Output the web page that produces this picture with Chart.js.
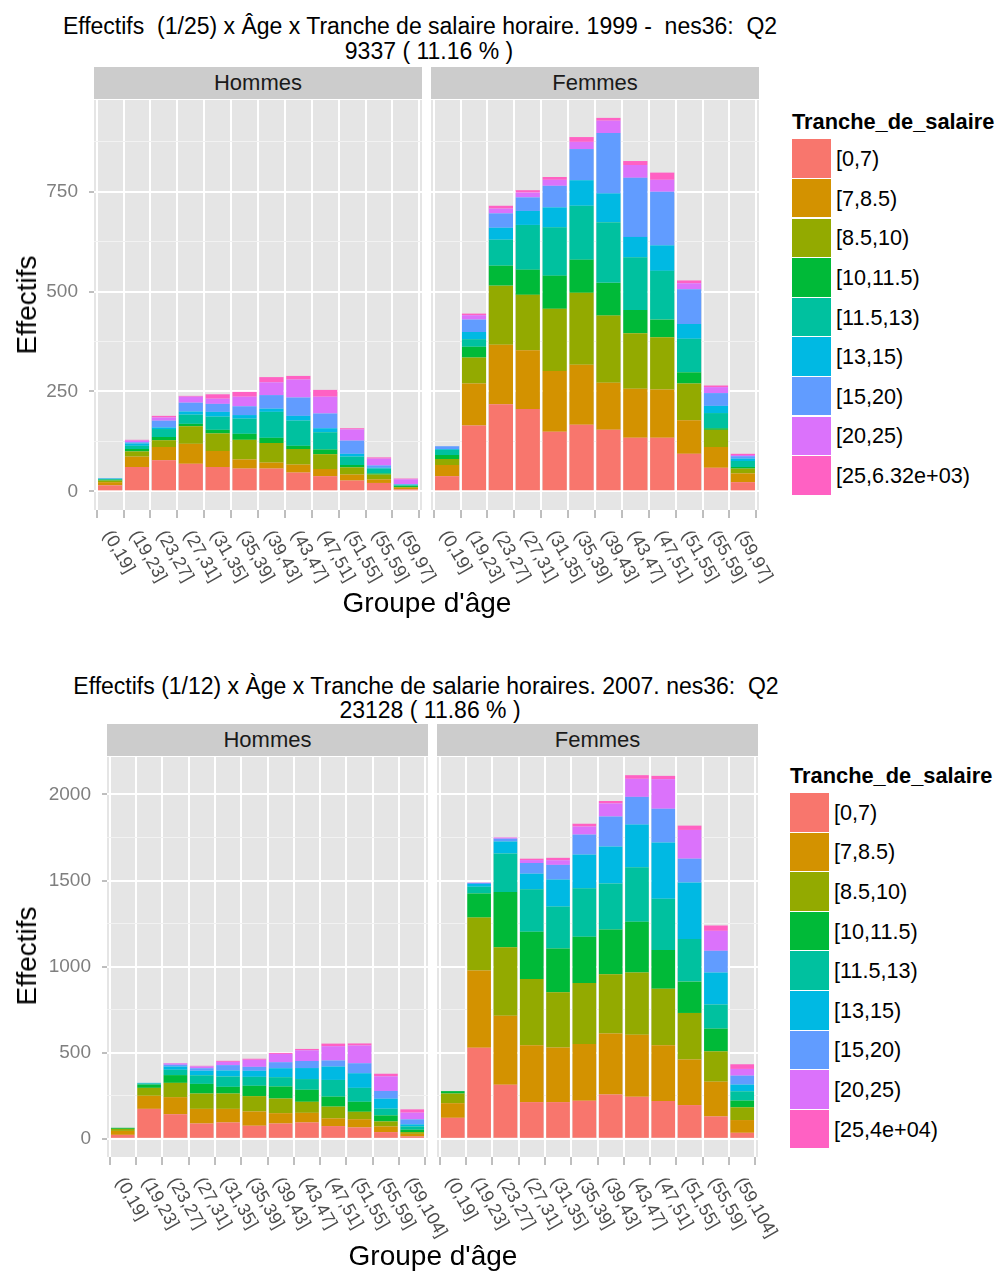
<!DOCTYPE html>
<html>
<head>
<meta charset="utf-8">
<script src="https://cdn.jsdelivr.net/npm/chart.js@4.4.0/dist/chart.umd.min.js"></script>
<style>
  html, body { margin: 0; padding: 0; background: #ffffff; }
  body { width: 995px; height: 1271px; position: relative; overflow: hidden;
         font-family: "Liberation Sans", Arial, Helvetica, sans-serif; color: #000; }
  .title { position: absolute; white-space: pre; font-size: 23px; line-height: 1; transform: translate(-50%, -50%); }
  .strip { position: absolute; background: #CCCCCC; font-size: 22px; color: #1A1A1A;
           display: flex; align-items: center; justify-content: center; }
  .ytitle { position: absolute; font-size: 28px; white-space: nowrap; line-height: 1;
            transform: translate(-50%, -50%) rotate(-90deg); }
  .xtitle { position: absolute; font-size: 28px; white-space: nowrap; line-height: 1;
            transform: translate(-50%, -50%); }
  .ltitle { position: absolute; font-size: 21.8px; font-weight: bold; white-space: nowrap; line-height: 1;
            transform: translateY(-50%); }
  .key { position: absolute; }
  .klabel { position: absolute; font-size: 21.6px; white-space: nowrap; line-height: 1; transform: translateY(-50%); }
  canvas { position: absolute; }
</style>
</head>
<body>
<script>
// Age groups (x categories)
const ageGroups1999 = ['(0,19]', '(19,23]', '(23,27]', '(27,31]', '(31,35]', '(35,39]',
                       '(39,43]', '(43,47]', '(47,51]', '(51,55]', '(55,59]', '(59,97]'];
const ageGroups2007 = ['(0,19]', '(19,23]', '(23,27]', '(27,31]', '(31,35]', '(35,39]',
                       '(39,43]', '(43,47]', '(47,51]', '(51,55]', '(55,59]', '(59,104]'];

// Hourly wage bands (stack order, bottom to top)
const salaryBands1999 = ['[0,7)', '[7,8.5)', '[8.5,10)', '[10,11.5)', '[11.5,13)',
                         '[13,15)', '[15,20)', '[20,25)', '[25,6.32e+03)'];
const salaryBands2007 = ['[0,7)', '[7,8.5)', '[8.5,10)', '[10,11.5)', '[11.5,13)',
                         '[13,15)', '[15,20)', '[20,25)', '[25,4e+04)'];

// Head counts: one row per wage band, one column per age group
const hommes1999 = [
  [15, 61, 78, 69, 61, 57, 57, 47, 38, 27, 21, 5],
  [8, 26, 33, 50, 40, 23, 15, 20, 18, 15, 9, 4],
  [4, 13, 17, 44, 44, 49, 49, 39, 37, 18, 12, 2],
  [2, 6, 8, 6, 9, 15, 13, 8, 12, 6, 3, 3],
  [2, 8, 20, 23, 33, 38, 65, 63, 43, 21, 12, 1],
  [1, 6, 4, 8, 12, 9, 8, 12, 10, 7, 2, 2],
  [1, 3, 17, 22, 20, 22, 34, 46, 37, 33, 6, 1],
  [0, 4, 8, 15, 13, 24, 32, 45, 42, 28, 17, 12],
  [0, 2, 4, 2, 11, 12, 13, 9, 17, 3, 3, 2]
];
const femmes1999 = [
  [38, 165, 218, 206, 149, 167, 154, 134, 134, 94, 59, 23],
  [28, 105, 149, 147, 152, 150, 118, 123, 121, 84, 52, 22],
  [15, 65, 148, 139, 156, 180, 168, 139, 131, 92, 43, 12],
  [10, 27, 50, 63, 83, 83, 82, 58, 44, 28, 4, 4],
  [13, 19, 65, 112, 121, 135, 152, 132, 122, 84, 38, 15],
  [2, 18, 30, 35, 50, 64, 72, 51, 64, 37, 18, 6],
  [7, 31, 36, 34, 54, 78, 151, 148, 134, 87, 32, 6],
  [0, 11, 12, 12, 15, 18, 31, 32, 30, 15, 15, 3],
  [0, 4, 7, 6, 7, 12, 7, 10, 18, 7, 4, 3]
];
const hommes2007 = [
  [23, 174, 143, 89, 95, 76, 89, 95, 74, 66, 39, 14],
  [23, 76, 99, 85, 79, 83, 60, 56, 45, 48, 33, 15],
  [12, 46, 83, 89, 89, 89, 85, 64, 68, 43, 29, 10],
  [6, 19, 45, 56, 39, 60, 70, 70, 58, 58, 35, 14],
  [0, 6, 31, 50, 60, 52, 54, 62, 97, 81, 39, 19],
  [0, 4, 19, 27, 35, 35, 52, 64, 78, 85, 58, 12],
  [0, 0, 10, 14, 31, 23, 35, 41, 35, 58, 45, 29],
  [0, 0, 8, 10, 19, 41, 48, 62, 83, 103, 85, 39],
  [0, 0, 2, 4, 6, 6, 6, 8, 15, 12, 15, 19]
];
const femmes2007 = [
  [122, 529, 314, 213, 213, 221, 258, 244, 219, 196, 130, 35],
  [85, 448, 401, 331, 318, 329, 353, 360, 324, 264, 202, 74],
  [56, 308, 397, 384, 320, 355, 345, 362, 329, 271, 176, 74],
  [14, 140, 322, 275, 254, 269, 260, 295, 225, 182, 132, 39],
  [0, 39, 223, 246, 244, 281, 267, 316, 298, 248, 140, 54],
  [0, 16, 70, 91, 157, 196, 215, 248, 326, 328, 186, 39],
  [0, 6, 16, 62, 85, 116, 174, 161, 196, 138, 126, 52],
  [0, 2, 6, 17, 27, 47, 76, 105, 172, 167, 116, 39],
  [0, 0, 2, 8, 14, 16, 14, 21, 19, 25, 31, 27]
];

// y-axis breaks
const yMajor1999 = [0, 250, 500, 750];
const yMinor1999 = [125, 375, 625, 875];
const yMajor2007 = [0, 500, 1000, 1500, 2000];
const yMinor2007 = [250, 750, 1250, 1750];

// Titles and facet names
const title1999 = ['Effectifs  (1/25) x Âge x Tranche de salaire horaire. 1999 -  nes36:  Q2', '9337 ( 11.16 % )'];
const title2007 = ['Effectifs (1/12) x Àge x Tranche de salarie horaires. 2007. nes36:  Q2', '23128 ( 11.86 % )'];
const facets = ['Hommes', 'Femmes'];

const bandColors = ['#F8766D', '#D39200', '#93AA00', '#00BA38', '#00C19F',
                    '#00B9E3', '#619CFF', '#DB72FB', '#FF61C3'];
const FONT = '"Liberation Sans", Arial, Helvetica, sans-serif';

function addDiv(cls, text, css) {
  const d = document.createElement('div');
  d.className = cls;
  if (text !== undefined) d.textContent = text;
  Object.assign(d.style, css);
  document.body.appendChild(d);
  return d;
}

// grey panel background behind the grid
const panelBg = {
  id: 'panelBg',
  beforeDraw(chart) {
    const { ctx, chartArea: a } = chart;
    ctx.save();
    ctx.fillStyle = '#E5E5E5';
    ctx.fillRect(a.left, a.top, a.right - a.left, a.bottom - a.top);
    ctx.restore();
  }
};

// age labels slanted downwards under each x tick
const slantedLabels = {
  id: 'slantedLabels',
  afterDraw(chart, args, opts) {
    const xs = chart.scales.x;
    const ctx = chart.ctx;
    ctx.save();
    ctx.font = opts.size + 'px ' + FONT;
    ctx.fillStyle = opts.color;
    ctx.textAlign = 'left';
    ctx.textBaseline = 'middle';
    opts.labels.forEach((lab, i) => {
      ctx.save();
      ctx.translate(xs.getPixelForValue(i) + opts.dx, chart.chartArea.bottom + opts.dy);
      ctx.rotate(opts.angle * Math.PI / 180);
      ctx.fillText(lab, 0, 0);
      ctx.restore();
    });
    ctx.restore();
  }
};

function makePanel(p) {
  const canvas = document.createElement('canvas');
  const w = p.right - p.left + p.axisW + p.extraR;
  const h = p.bottom - p.top + p.bottomH;
  canvas.width = w; canvas.height = h;
  Object.assign(canvas.style, { left: (p.left - p.axisW) + 'px', top: p.top + 'px', width: w + 'px', height: h + 'px' });
  document.body.appendChild(canvas);
  const majors = new Set(p.majors);
  const allTicks = p.majors.concat(p.minors).sort((a, b) => a - b);
  new Chart(canvas, {
    type: 'bar',
    data: {
      datasets: p.bands.map((b, k) => ({
        label: b,
        data: p.values[k].map((v, i) => ({ x: i, y: v })),
        backgroundColor: bandColors[k],
        borderWidth: 0,
        barPercentage: 0.9,
        categoryPercentage: 1
      }))
    },
    options: {
      responsive: false,
      animation: false,
      devicePixelRatio: 1,
      layout: { padding: { left: 0, right: p.extraR, top: 0, bottom: 0 } },
      plugins: {
        legend: { display: false },
        tooltip: { enabled: false },
        slantedLabels: { labels: p.cats, size: 18, color: '#4D4D4D', angle: 60, dx: -3, dy: 22 }
      },
      scales: {
        x: {
          type: 'linear', stacked: true, offset: false,
          min: -0.6, max: p.cats.length - 0.4,
          afterBuildTicks: s => { s.ticks = p.cats.map((_, i) => ({ value: i })); },
          ticks: { display: false, autoSkip: false },
          grid: { color: '#FFFFFF', lineWidth: 2, drawTicks: true, tickLength: 8,
                  tickColor: '#7F7F7F', tickWidth: 1 },
          border: { display: false },
          afterFit: s => { s.height = p.bottomH; s.paddingLeft = 0; s.paddingRight = 0; }
        },
        y: {
          type: 'linear', stacked: true,
          min: p.yMin, max: p.yMax,
          afterBuildTicks: s => { s.ticks = allTicks.map(v => ({ value: v })); },
          ticks: {
            display: p.axisW > 0, autoSkip: false, padding: 11,
            color: '#7F7F7F', font: { family: FONT, size: p.tickSize },
            callback: v => majors.has(v) ? String(v) : ''
          },
          grid: {
            color: c => majors.has(c.tick.value) ? '#FFFFFF' : '#F2F2F2',
            lineWidth: c => majors.has(c.tick.value) ? 2 : 1,
            drawTicks: p.axisW > 0, tickLength: 5, tickWidth: 1,
            tickColor: c => majors.has(c.tick.value) ? '#7F7F7F' : 'rgba(0,0,0,0)'
          },
          border: { display: false },
          afterFit: s => { s.width = p.axisW; s.paddingTop = 0; s.paddingBottom = 0; }
        }
      }
    },
    plugins: [panelBg, slantedLabels]
  });
}

function makeFigure(f) {
  addDiv('title', f.title[0], { left: f.t1[0] + 'px', top: f.t1[1] + 'px' });
  addDiv('title', f.title[1], { left: f.t2[0] + 'px', top: f.t2[1] + 'px' });
  f.panels.forEach((pan, j) => {
    addDiv('strip', facets[j], { left: pan.left + 'px', top: f.stripTop + 'px',
      width: (pan.right - pan.left) + 'px', height: (pan.top - 1 - f.stripTop) + 'px' });
    makePanel(Object.assign({}, pan, {
      axisW: j === 0 ? 94 : 0, extraR: 30, bottomH: 95, tickSize: f.tickSize,
      cats: f.cats, bands: f.bands, values: f.values[j],
      yMin: f.yMin, yMax: f.yMax, majors: f.majors, minors: f.minors
    }));
  });
  addDiv('ytitle', 'Effectifs', { left: f.yt[0] + 'px', top: f.yt[1] + 'px' });
  addDiv('xtitle', "Groupe d'âge", { left: f.xt[0] + 'px', top: f.xt[1] + 'px' });
  // legend
  addDiv('ltitle', 'Tranche_de_salaire', { left: f.leg[0] + 'px', top: f.legTitleY + 'px' });
  f.bands.forEach((b, k) => {
    const top = f.leg[1] + k * 39.6;
    addDiv('key', undefined, { left: f.leg[0] + 'px', top: top + 'px', width: '39px', height: '38.6px', background: bandColors[k] });
    addDiv('klabel', b, { left: (f.leg[0] + 44) + 'px', top: (top + 19.8) + 'px' });
  });
}

makeFigure({
  title: title1999, t1: [420, 26], t2: [429, 51],
  stripTop: 67,
  panels: [{ left: 94, right: 422, top: 100, bottom: 510 }, { left: 431, right: 759, top: 100, bottom: 510 }],
  cats: ageGroups1999, bands: salaryBands1999, values: [hommes1999, femmes1999],
  yMin: -46.7, yMax: 979.8, majors: yMajor1999, minors: yMinor1999, tickSize: 19,
  yt: [27, 305], xt: [427, 603],
  leg: [792, 139.3], legTitleY: 122
});

makeFigure({
  title: title2007, t1: [426, 686], t2: [430, 710],
  stripTop: 724,
  panels: [{ left: 107, right: 428, top: 757, bottom: 1157 }, { left: 437, right: 758, top: 757, bottom: 1157 }],
  cats: ageGroups2007, bands: salaryBands2007, values: [hommes2007, femmes2007],
  yMin: -105.6, yMax: 2217.6, majors: yMajor2007, minors: yMinor2007, tickSize: 19,
  yt: [27, 956], xt: [433, 1256],
  leg: [790, 793], legTitleY: 776
});
</script>
</body>
</html>
